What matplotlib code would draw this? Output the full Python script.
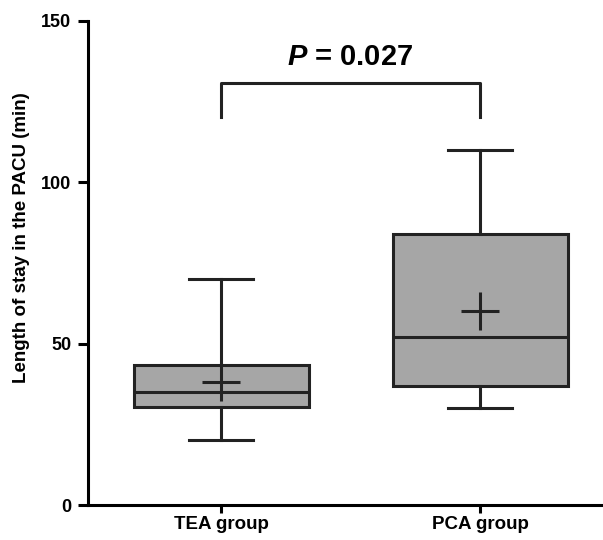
import matplotlib.pyplot as plt

plt.rcParams['font.family'] = ['Liberation Sans', 'DejaVu Sans']
plt.rcParams['font.weight'] = 'bold'
plt.rcParams['mathtext.fontset'] = 'custom'
plt.rcParams['mathtext.bfit'] = 'Liberation Sans:italic:bold'
plt.rcParams['mathtext.bf'] = 'Liberation Sans:bold'
plt.rcParams['mathtext.rm'] = 'Liberation Sans:bold'

groups = ['TEA group', 'PCA group']
whisker_low = [20, 30]
q1 = [30.5, 37]
median = [35, 52]
q3 = [43.5, 84]
whisker_high = [70, 110]
means = [38, 60]
p_text = r'$\mathbfit{P}$ = 0.027'

dark = '#222222'
lw = 2.2

stats = []
for i in range(len(groups)):
    stats.append(dict(label=groups[i], whislo=whisker_low[i], q1=q1[i], med=median[i],
                      q3=q3[i], whishi=whisker_high[i], mean=means[i], fliers=[]))

fig = plt.figure(figsize=(6.03, 5.4), dpi=100)
ax = fig.add_axes([0.146, 0.0648, 0.854, 0.897])

pos = [1, 2]
ax.bxp(stats, positions=pos, widths=0.676, patch_artist=True, showmeans=True,
       boxprops=dict(facecolor='#a6a6a6', edgecolor=dark, linewidth=lw),
       medianprops=dict(color=dark, linewidth=lw),
       whiskerprops=dict(color=dark, linewidth=lw),
       capprops=dict(color=dark, linewidth=lw),
       capwidths=0.245,
       meanprops=dict(marker='+', markersize=27, markeredgecolor=dark, markeredgewidth=lw))

# bracket + p value
ax.plot([1, 1, 2, 2], [120.3, 130.6, 130.6, 120.3], color=dark, linewidth=lw, clip_on=False)
ax.text(1.5, 136.3, p_text, ha='center', va='baseline', fontsize=21, fontweight='bold')

ax.set_xlim(0.486, 2.475)
ax.set_ylim(0, 150)
ax.set_yticks([0, 50, 100, 150])
ax.set_xticks(pos)
ax.set_xticklabels(groups, fontsize=13.5, fontweight='bold')
ax.tick_params(axis='y', labelsize=13, width=lw, length=7, direction='out', pad=5)
ax.tick_params(axis='x', width=lw, length=6, direction='out', pad=2)
ax.set_ylabel('Length of stay in the PACU (min)', fontsize=13.5, fontweight='bold')
ax.yaxis.set_label_coords(-0.113, 0.551)

for s in ['top', 'right']:
    ax.spines[s].set_visible(False)
for s in ['left', 'bottom']:
    ax.spines[s].set_linewidth(lw)
    ax.spines[s].set_color('black')

fig.savefig('out.png', dpi=100)
